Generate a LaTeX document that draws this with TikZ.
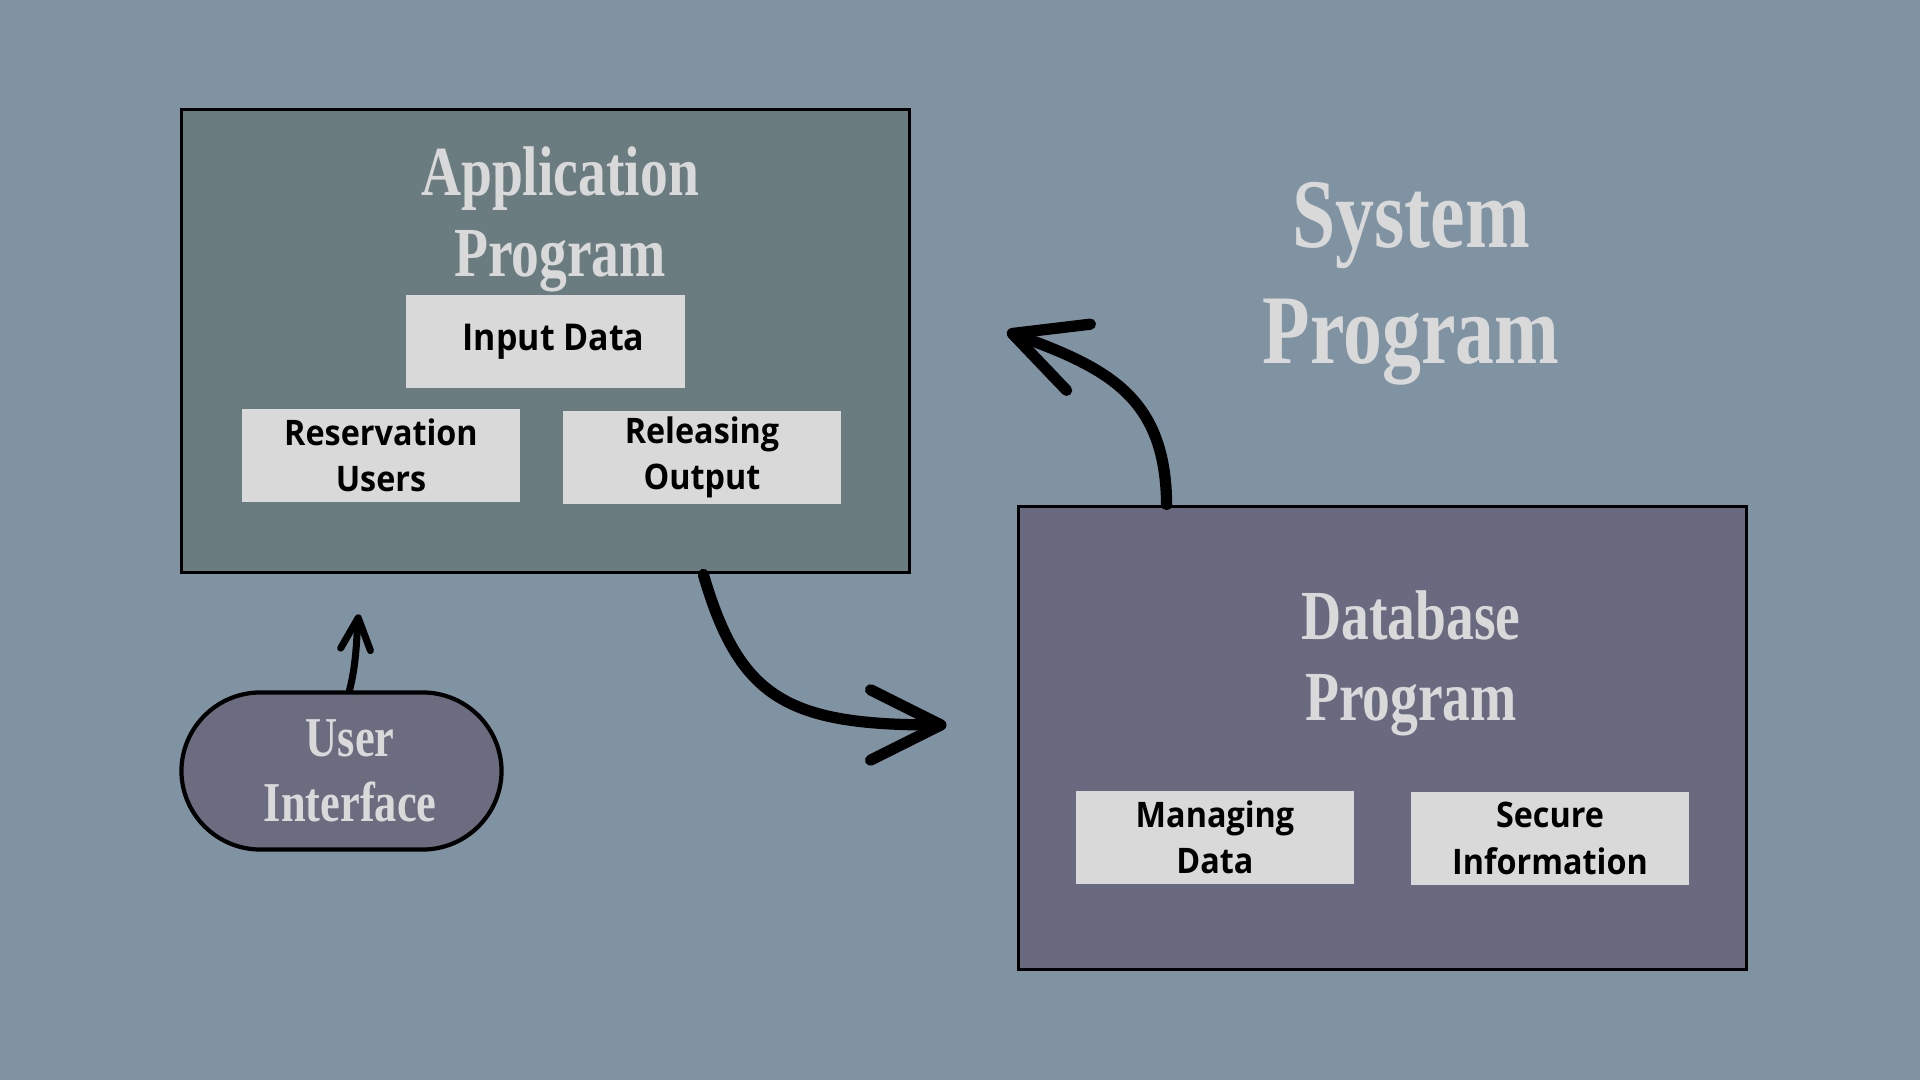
\documentclass[tikz,border=0pt]{standalone}
\usepackage{fontspec}
\usepackage{tikz}
\usetikzlibrary{arrows.meta}
\definecolor{slate}{RGB}{128,147,163}
\definecolor{appteal}{RGB}{106,124,128}
\definecolor{dbviolet}{RGB}{105,106,128}
\definecolor{uiviolet}{RGB}{107,108,128}
\definecolor{paper}{RGB}{217,217,217}
\newfontfamily\titlefont[FakeStretch=0.79]{Liberation Serif}
\newfontfamily\boxfont[FakeStretch=0.92]{Open Sans}
\tikzset{%
    mainbox/.style={draw=black,line width=1pt,fill=#1,
        minimum width=7.28cm,minimum height=4.63cm},
    subbox/.style={fill=paper,inner sep=0pt,align=center,
        minimum width=2.78cm,minimum height=0.93cm,
        font=\boxfont\bfseries\fontsize{10}{13.2}\selectfont},
    heading/.style 2 args={text=paper,align=center,inner sep=0pt,
        font=\titlefont\bfseries\fontsize{#1}{#2}\selectfont},
    bigarrow/.style={line width=3.2pt,line cap=round,
        -{Straight Barb[length=20pt,width=20pt,round]}}
}
\begin{document}
\begin{tikzpicture}[x=0.01cm,y=-0.01cm]
    \fill[slate] (0,0) rectangle (1920,1080);
    \useasboundingbox (0,0) rectangle (1920,1080);
    % application side
    \node[mainbox=appteal] (app) at (545.5,341) {};
    \node[heading={20}{23}] (apptitle) at (560,219) {Application\\Program};
    \node[subbox,font=\boxfont\bfseries\fontsize{10.5}{13}\selectfont] (input) at (545.5,341.5) {\hspace*{4.6pt}Input Data};
    \node[subbox] (resv) at (381,455.5) {Reservation\\Users};
    \node[subbox] (rel) at (702,457.5) {Releasing\\Output};
    % database side
    \node[mainbox=dbviolet] (db) at (1382.5,738) {};
    \node[heading={20}{23}] (dbtitle) at (1411,663) {Database\\Program};
    \node[subbox] (mng) at (1215,837.5) {Managing\\Data};
    \node[subbox] (sec) at (1550,838.5) {Secure\\Information};
    \node[heading={28}{33}] (sys) at (1411,284) {System\\Program};
    % user interface
    \node[draw=black,line width=1.2pt,fill=uiviolet,rounded corners=0.79cm,
        minimum width=3.2cm,minimum height=1.57cm,heading={16}{18.4}] (ui) at (341.5,771)
        {\hspace*{5pt}User\\\hspace*{5pt}Interface};
    \coordinate (dbin) at ([shift={(-70,-13)}]db.west);
    \coordinate (sysin) at ([shift={(-375.5,-173)}]db.north);
    \coordinate (appin) at ([shift={(17,-76)}]ui.north);
    \draw[bigarrow] ([xshift=-2.08cm]app.south east)
        .. controls +(36,124) and +(-159,0) .. (dbin);
    \draw[bigarrow] ([xshift=1.5cm]db.north west)
        .. controls +(-1,-106) and +(103,37) .. (sysin);
    \draw[line width=2pt,line cap=round,-{Straight Barb[length=9pt,width=8.5pt,round]}]
        ([xshift=0.08cm]ui.north) .. controls +(7,-27) and +(-2,24) .. (appin);
\end{tikzpicture}
\end{document}
